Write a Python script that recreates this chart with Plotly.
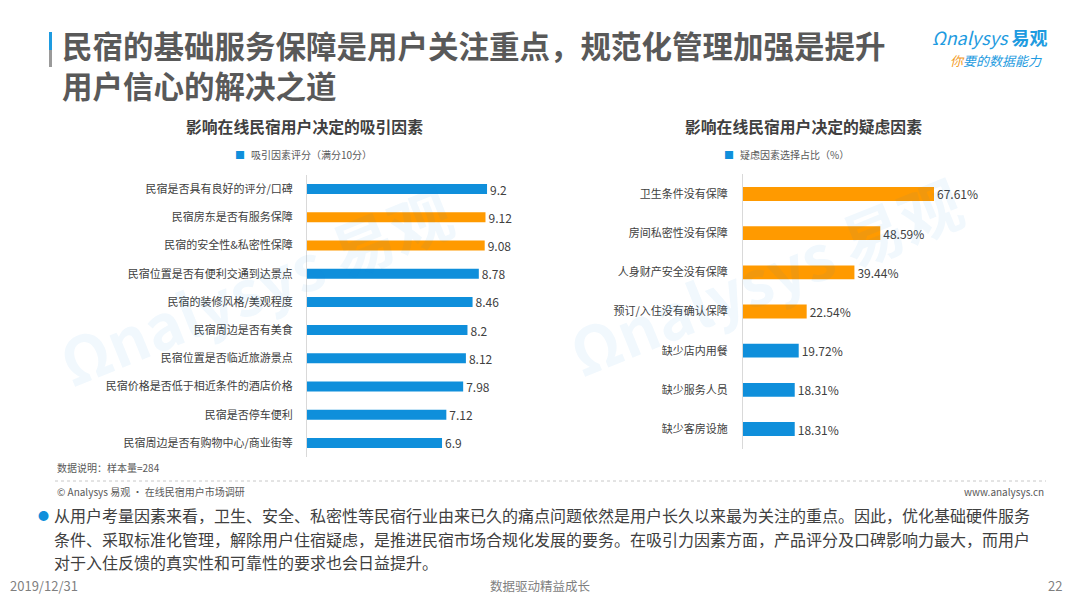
import plotly.graph_objects as go

# ---------------- data ----------------
attract_labels = [
    "民宿是否具有良好的评分/口碑",
    "民宿房东是否有服务保障",
    "民宿的安全性&私密性保障",
    "民宿位置是否有便利交通到达景点",
    "民宿的装修风格/美观程度",
    "民宿周边是否有美食",
    "民宿位置是否临近旅游景点",
    "民宿价格是否低于相近条件的酒店价格",
    "民宿是否停车便利",
    "民宿周边是否有购物中心/商业街等",
]
attract_scores = [9.2, 9.12, 9.08, 8.78, 8.46, 8.2, 8.12, 7.98, 7.12, 6.9]
attract_text = ["9.2", "9.12", "9.08", "8.78", "8.46", "8.2", "8.12", "7.98", "7.12", "6.9"]

doubt_labels = [
    "卫生条件没有保障",
    "房间私密性没有保障",
    "人身财产安全没有保障",
    "预订/入住没有确认保障",
    "缺少店内用餐",
    "缺少服务人员",
    "缺少客房设施",
]
doubt_pct = [67.61, 48.59, 39.44, 22.54, 19.72, 18.31, 18.31]

# ---------------- style ----------------
BLUE = "#0F8FDB"
ORANGE = "#FF9A00"
GREY_TXT = "#404040"
FONT = "Noto Sans CJK SC"
W, H = 1080, 608

left_colors = [BLUE, ORANGE, ORANGE, BLUE, BLUE, BLUE, BLUE, BLUE, BLUE, BLUE]
right_colors = [ORANGE, ORANGE, ORANGE, ORANGE, BLUE, BLUE, BLUE]


def px(x):
    return x / W


def py(y):
    return 1 - y / H


fig = go.Figure()

fig.add_trace(go.Bar(
    x=attract_scores, y=attract_labels, orientation="h",
    marker=dict(color=left_colors, line=dict(width=0)),
    text=attract_text, textposition="outside", cliponaxis=False, constraintext="none",
    textfont=dict(size=12, color=GREY_TXT, family=FONT),
    xaxis="x", yaxis="y", showlegend=False, hoverinfo="skip",
))

fig.add_trace(go.Bar(
    x=doubt_pct, y=doubt_labels, orientation="h",
    marker=dict(color=right_colors, line=dict(width=0)),
    text=[f"{v:.2f}%" for v in doubt_pct], textposition="outside", cliponaxis=False,
    constraintext="none",
    textfont=dict(size=12, color=GREY_TXT, family=FONT),
    xaxis="x2", yaxis="y2", showlegend=False, hoverinfo="skip",
))

fig.update_layout(
    width=W, height=H,
    margin=dict(l=0, r=0, t=0, b=0),
    paper_bgcolor="white", plot_bgcolor="rgba(0,0,0,0)",
    font=dict(family=FONT, color=GREY_TXT),
    bargap=0.645,
    xaxis=dict(domain=[px(307), px(502.7)], range=[0, 10], visible=False, fixedrange=True),
    yaxis=dict(domain=[py(457), py(175)], anchor="x", autorange="reversed",
               showline=True, linecolor="#D9D9D9", linewidth=1,
               showgrid=False, ticks="", ticklabelstandoff=11,
               tickfont=dict(size=11, color=GREY_TXT, family=FONT)),
    xaxis2=dict(domain=[px(743), px(969)], range=[0, 80], visible=False, anchor="y2"),
    yaxis2=dict(domain=[py(448.6), py(174.4)], anchor="x2", autorange="reversed",
                showline=True, linecolor="#D9D9D9", linewidth=1,
                showgrid=False, ticks="", ticklabelstandoff=12,
                tickfont=dict(size=11, color=GREY_TXT, family=FONT)),
)

ann = []


def add_text(x, y, text, size, color=GREY_TXT, xanchor="left", bold=False, **kw):
    t = f"<b>{text}</b>" if bold else text
    ann.append(dict(x=px(x), y=py(y), xref="paper", yref="paper", text=t,
                    showarrow=False, xanchor=xanchor, yanchor="middle",
                    font=dict(size=size, color=color, family=kw.pop("family", FONT)), **kw))


# watermarks
add_text(255, 285, "Ωnalysys 易观", 62, color="rgba(15,143,219,0.06)", xanchor="center",
         bold=True, textangle=-22)
add_text(765, 275, "Ωnalysys 易观", 62, color="rgba(15,143,219,0.06)", xanchor="center",
         bold=True, textangle=-22)

# main title (two lines in one text block)
add_text(60, 65, "民宿的基础服务保障是用户关注重点，规范化管理加强是提升<br>用户信心的解决之道",
         30.5, color="#595959", bold=True, align="left")

# logo
add_text(990, 37, "<i>Ωnalysys</i> <b>易观</b>", 18, color="#1E9BE0", xanchor="center")
add_text(996, 60, "<i><span style='color:#F39A1E'>你</span>要的数据能力</i>", 13, color="#1E9BE0",
         xanchor="center")

# chart titles
add_text(304, 126, "影响在线民宿用户决定的吸引因素", 15.8, color="#404040", xanchor="center", bold=True)
add_text(803, 126, "影响在线民宿用户决定的疑虑因素", 15.8, color="#404040", xanchor="center", bold=True)

# legends
add_text(233, 155, "■", 10, color=BLUE)
add_text(249, 155, "吸引因素评分（满分10分）", 10, color="#595959")
add_text(722, 155, "■", 10, color=BLUE)
add_text(738, 155, "疑虑因素选择占比（%）", 10, color="#595959")

# footer notes
add_text(55, 467, "数据说明：样本量=284", 10, color="#595959")
add_text(55, 491, "© Analysys 易观 · 在线民宿用户市场调研", 10, color="#595959")
add_text(1046, 491, "www.analysys.cn", 10, color="#595959", xanchor="right")

# body paragraph
add_text(36, 515, "●", 11, color=BLUE)
add_text(52, 515, "从用户考量因素来看，卫生、安全、私密性等民宿行业由来已久的痛点问题依然是用户长久以来最为关注的重点。因此，优化基础硬件服务", 16, color=GREY_TXT)
add_text(52, 539, "条件、采取标准化管理，解除用户住宿疑虑，是推进民宿市场合规化发展的要务。在吸引力因素方面，产品评分及口碑影响力最大，而用户", 16, color=GREY_TXT)
add_text(52, 562, "对于入住反馈的真实性和可靠性的要求也会日益提升。", 16, color=GREY_TXT)

# page footer
add_text(8, 585, "2019/12/31", 13, color="#7F7F7F")
add_text(540, 585, "数据驱动精益成长", 12.5, color="#7F7F7F", xanchor="center")
add_text(1064, 585, "22", 13, color="#7F7F7F", xanchor="right")

fig.update_layout(annotations=ann)

shapes = [
    # title accent bar
    dict(type="rect", xref="paper", yref="paper", x0=px(49), x1=px(52), y0=py(50), y1=py(32),
         fillcolor="#1E9BE0", line=dict(width=0)),
    dict(type="rect", xref="paper", yref="paper", x0=px(49), x1=px(52), y0=py(67), y1=py(50),
         fillcolor="#9A9A9A", line=dict(width=0)),
    # footer dotted line
    dict(type="line", xref="paper", yref="paper", x0=px(55), x1=px(1046), y0=py(481), y1=py(481),
         line=dict(color="#C8C8C8", width=1, dash="dot")),
]
fig.update_layout(shapes=shapes)

fig.write_html(
    "out.html",
    config={"displayModeBar": False, "staticPlot": True},
    post_script="document.body.style.margin='0';document.body.style.padding='0';"
                "document.body.style.overflow='hidden';",
)
